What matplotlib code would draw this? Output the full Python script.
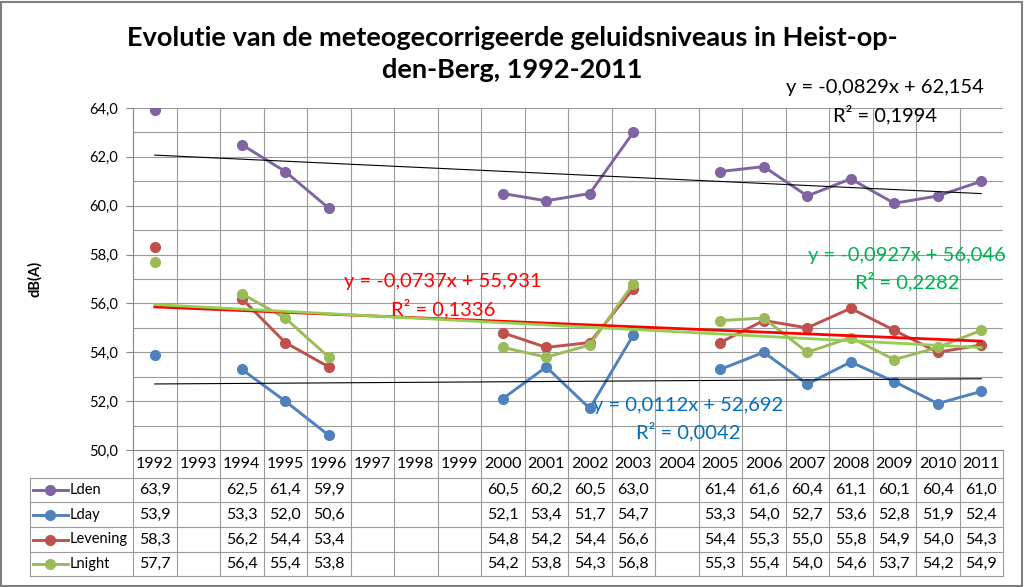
import numpy as np
import matplotlib
matplotlib.use("Agg")
import matplotlib.pyplot as plt
import matplotlib.transforms as mtransforms
from matplotlib.lines import Line2D
from matplotlib.patches import Rectangle

plt.rcParams['font.family'] = ['Lato', 'DejaVu Sans']

years = [1992, 1993, 1994, 1995, 1996, 1997, 1998, 1999, 2000, 2001,
         2002, 2003, 2004, 2005, 2006, 2007, 2008, 2009, 2010, 2011]
nan = np.nan
lden = [63.9, nan, 62.5, 61.4, 59.9, nan, nan, nan, 60.5, 60.2,
        60.5, 63.0, nan, 61.4, 61.6, 60.4, 61.1, 60.1, 60.4, 61.0]
lday = [53.9, nan, 53.3, 52.0, 50.6, nan, nan, nan, 52.1, 53.4,
        51.7, 54.7, nan, 53.3, 54.0, 52.7, 53.6, 52.8, 51.9, 52.4]
levening = [58.3, nan, 56.2, 54.4, 53.4, nan, nan, nan, 54.8, 54.2,
            54.4, 56.6, nan, 54.4, 55.3, 55.0, 55.8, 54.9, 54.0, 54.3]
lnight = [57.7, nan, 56.4, 55.4, 53.8, nan, nan, nan, 54.2, 53.8,
          54.3, 56.8, nan, 55.3, 55.4, 54.0, 54.6, 53.7, 54.2, 54.9]

series_names = ['Lden', 'Lday', 'Levening', 'Lnight']
series_vals = [lden, lday, levening, lnight]
series_colors = ['#8064A2', '#4F81BD', '#C0504D', '#9BBB59']

# linear trendlines as printed on the chart (x = 1..20)
trend_slope = [-0.0829, 0.0112, -0.0737, -0.0927]
trend_icept = [62.154, 52.692, 55.931, 56.046]
trend_r2 = [0.1994, 0.0042, 0.1336, 0.2282]
trend_colors = ['black', 'black', '#FF0000', '#92D050']
trend_widths = [0.8, 0.8, 2.0, 2.0]
label_colors = ['black', '#0070C0', '#FF0000', '#00B050']
# label centres in pixels (x, y of equation line)
label_pos = [(885, 88), (688, 405), (443, 282), (907, 255)]

W, H = 1024, 587
fig = plt.figure(figsize=(W / 100, H / 100), dpi=100)

def fx(px):
    return px / W

def fy(py):
    return 1 - py / H

ax = fig.add_axes([fx(133), fy(450), fx(1003) - fx(133), fy(108) - fy(450)])
n = len(years)
x = np.arange(n)
ax.set_xlim(-0.5, n - 0.5)
ax.set_ylim(50, 64)

grid_c = '#9A9A9A'
# horizontal grid (major every 2, minor every 1)
for v in np.arange(51, 64.1, 1):
    ax.axhline(v, color=grid_c, lw=0.8, zorder=0)
# vertical grid at category borders
for b in np.arange(0.5, n - 0.5, 1):
    ax.axvline(b, color=grid_c, lw=0.8, zorder=0)

for s in ['top', 'right']:
    ax.spines[s].set_visible(False)
ax.spines['left'].set_color('#868686')
ax.spines['bottom'].set_color('#868686')
ax.set_xticks([])
ax.set_yticks(np.arange(50, 64.1, 2))
ax.set_yticklabels([f'{v:.1f}'.replace('.', ',') for v in np.arange(50, 64.1, 2)],
                   fontsize=10.5)
ax.tick_params(axis='y', length=5, color='#868686', pad=6)
ax.set_ylabel('dB(A)', fontsize=10.5, fontweight='bold', labelpad=34)

# series lines
for vals, col in zip(series_vals, series_colors):
    ax.plot(x, vals, color=col, lw=2.1, marker='o', ms=7, zorder=3)

# trendlines
xt = np.array([1, n])
for i in range(4):
    yt = trend_slope[i] * xt + trend_icept[i]
    ax.plot(xt - 1, yt, color=trend_colors[i], lw=trend_widths[i], zorder=4)
    sign = '+' if trend_icept[i] >= 0 else '-'
    eq = f'y = {trend_slope[i]:.4f}x {sign} {abs(trend_icept[i]):.3f}'.replace('.', ',')
    r2 = f'R² = {trend_r2[i]:.4f}'.replace('.', ',')
    lx, ly = label_pos[i]
    fig.text(fx(lx), fy(ly), eq, color=label_colors[i], fontsize=14.5,
             ha='center', va='center', zorder=6)
    fig.text(fx(lx), fy(ly + 27), r2, color=label_colors[i], fontsize=14.5,
             ha='center', va='center', zorder=6)

# data table below the plot
tr = mtransforms.blended_transform_factory(ax.transData, ax.transAxes)
ph = 342.0
row_edges = [0, 28, 52, 77, 102, 126]
left_x = -0.5 + (30 - 133) / 43.5
line_kw = dict(color=grid_c, lw=0.8, transform=tr, clip_on=False)
for b in np.arange(-0.5, n, 1):
    ax.plot([b, b], [0, -row_edges[-1] / ph], **line_kw)
for e in row_edges[1:]:
    ax.plot([left_x, n - 0.5], [-e / ph, -e / ph], **line_kw)
ax.plot([left_x, left_x], [-row_edges[1] / ph, -row_edges[-1] / ph], **line_kw)

num_fs = 11.5
for i, yr in enumerate(years):
    ax.text(i, -14 / ph, str(yr), transform=tr, ha='center', va='center',
            fontsize=num_fs, clip_on=False)
for r, (name, vals, col) in enumerate(zip(series_names, series_vals, series_colors)):
    yc = -(row_edges[r + 1] + row_edges[r + 2]) / 2 / ph
    ax.add_line(Line2D([-0.5 + (33 - 133) / 43.5, -0.5 + (68 - 133) / 43.5], [yc, yc],
                       color=col, lw=2.1, transform=tr, clip_on=False))
    ax.plot([-0.5 + (50 - 133) / 43.5], [yc], marker='o', ms=7, color=col,
            transform=tr, clip_on=False)
    ax.text(-0.5 + (70 - 133) / 43.5, yc, name, transform=tr, ha='left', va='center',
            fontsize=10.5, clip_on=False)
    for i, v in enumerate(vals):
        if not np.isnan(v):
            ax.text(i, yc, f'{v:.1f}'.replace('.', ','), transform=tr, ha='center',
                    va='center', fontsize=num_fs, clip_on=False)

# title
fig.text(fx(512), fy(38), 'Evolutie van de meteogecorrigeerde geluidsniveaus in Heist-op-',
         ha='center', va='center', fontsize=19.5, fontweight='bold')
fig.text(fx(512), fy(70), 'den-Berg, 1992-2011',
         ha='center', va='center', fontsize=19.5, fontweight='bold')

# chart border
fig.add_artist(Rectangle((0.001, 0.002), 0.997, 0.995, transform=fig.transFigure,
                         fill=False, edgecolor='#7F7F7F', lw=1.5))

fig.savefig('out.png', dpi=100)
